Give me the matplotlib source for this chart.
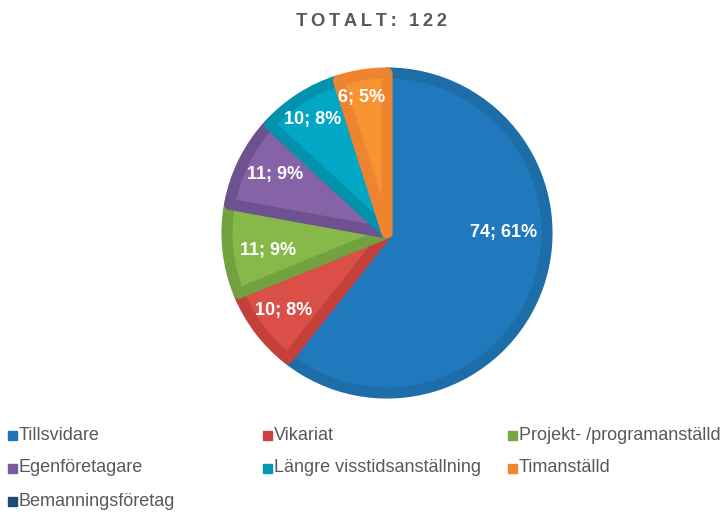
import numpy as np
import matplotlib
matplotlib.use('Agg')
import matplotlib.pyplot as plt
from matplotlib.patches import Rectangle

plt.rcParams['font.family'] = ['Liberation Sans', 'DejaVu Sans']

# data
categories = ['Tillsvidare', 'Vikariat', 'Projekt- /programanställd', 'Egenföretagare',
              'Längre visstidsanställning', 'Timanställd', 'Bemanningsföretag']
counts = [74, 10, 11, 11, 10, 6, 0]
fill_colors = ['#2079BD', '#DA5048', '#86B84A', '#8563A6', '#01A7C4', '#F79331', '#1F4E79']
edge_colors = ['#1D6DA8', '#C3403B', '#74A13F', '#6E5190', '#0392AB', '#EE8430', '#1A4266']
legend_colors = ['#1E75B6', '#C8413D', '#77A542', '#7A5A9C', '#0198B3', '#F0862F', '#1E4B73']
total = sum(counts)

W, H = 727, 513
fig = plt.figure(figsize=(W / 100, H / 100), dpi=100)

# pie axes, centre ~ (387, 233) px, radius ~166 px
R = 166.0
half = 200.0
cx, cy = 387, H - 233
ax = fig.add_axes([(cx - half) / W, (cy - half) / H, 2 * half / W, 2 * half / H])
ax.set_xlim(-half / R, half / R)
ax.set_ylim(-half / R, half / R)
ax.set_aspect('equal')
ax.axis('off')

vals = [c for c in counts if c > 0]
wedges, _ = ax.pie(vals, colors=fill_colors[:len(vals)], startangle=90, counterclock=False,
                   radius=1.0, wedgeprops=dict(linewidth=0))

# darker inner band like Excel's border (stroke clipped to the wedge itself)
for w, ec in zip(wedges, edge_colors):
    w.set_edgecolor(ec)
    w.set_linewidth(8)
    w.set_joinstyle('round')
    w.set_clip_path(w)

# data labels
label_r = [0.73, 0.81, 0.75, 0.79, 0.85, 0.86]
label_shift = [19.2, 0, 2.4, -1.0, 0.6, 2.0]
for i, w in enumerate(wedges):
    mid = (w.theta1 + w.theta2) / 2 + label_shift[i]
    x = label_r[i] * np.cos(np.radians(mid))
    y = label_r[i] * np.sin(np.radians(mid))
    pct = round(100 * vals[i] / total)
    ax.text(x, y, '{}; {}%'.format(vals[i], pct), ha='center', va='center',
            color='white', fontsize=13, fontweight='bold')

title = 'TOTALT: 122'
fig.text(372 / W, 1 - 22 / H, '\u2009'.join(title), ha='center', va='center',
         fontsize=13.2, fontweight='bold', color='#595959')

# legend, row-major, 3 columns
col_x = [8, 263, 508]
row_y = [435, 468, 501]
for i, name in enumerate(categories):
    c, r = i % 3, i // 3
    x0, y0 = col_x[c], row_y[r]
    fig.patches.append(Rectangle((x0 / W, (H - y0 - 5) / H), 9 / W, 9 / H,
                                 transform=fig.transFigure, color=legend_colors[i]))
    fig.text((x0 + 11) / W, 1 - y0 / H, name, ha='left', va='center',
             fontsize=13, color='#595959')

fig.savefig('out.png', dpi=100)
